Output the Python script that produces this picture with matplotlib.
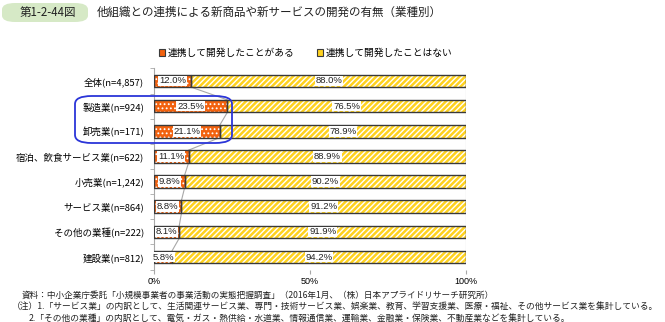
import matplotlib
matplotlib.use("Agg")
import matplotlib.pyplot as plt
from matplotlib.patches import FancyBboxPatch, Patch

plt.rcParams['font.family'] = ['Noto Sans CJK JP', 'DejaVu Sans']

categories = ["全体(n=4,857)", "製造業(n=924)", "卸売業(n=171)", "宿泊、飲食サービス業(n=622)",
              "小売業(n=1,242)", "サービス業(n=864)", "その他の業種(n=222)", "建設業(n=812)"]
yes_vals = [12.0, 23.5, 21.1, 11.1, 9.8, 8.8, 8.1, 5.8]
no_vals = [88.0, 76.5, 78.9, 88.9, 90.2, 91.2, 91.9, 94.2]
series_names = ["連携して開発したことがある", "連携して開発したことはない"]
xtick_vals = [0, 50, 100]
xtick_labels = ["0%", "50%", "100%"]

ORANGE = "#F2620F"
YELLOW = "#FFD21F"
EDGE = "#3A3A3A"
GRAY = "#A8A8A8"
NUMFONT = ["Liberation Sans Narrow", "Liberation Sans", "DejaVu Sans"]

W, H = 665, 322
fig = plt.figure(figsize=(W / 100, H / 100), dpi=100)
ax = fig.add_axes([154 / W, 1 - 269.6 / H, (466 - 154) / W, (269.6 - 68.4) / H])

y = list(range(len(categories)))
h = 0.5

# hatched fills
plt.rcParams['hatch.linewidth'] = 0.8
ax.barh(y, yes_vals, height=h, color=ORANGE, edgecolor="white", linewidth=0, hatch="....", zorder=2)
plt.rcParams['hatch.linewidth'] = 1.0
ax.barh(y, no_vals, left=yes_vals, height=h, color=YELLOW, edgecolor="white", linewidth=0, hatch="//////", zorder=2)
# outlines
ax.barh(y, yes_vals, height=h, fill=False, edgecolor=EDGE, linewidth=1.0, zorder=3)
ax.barh(y, no_vals, left=yes_vals, height=h, fill=False, edgecolor=EDGE, linewidth=1.0, zorder=3)

# series lines
for i in range(len(y) - 1):
    ax.plot([yes_vals[i], yes_vals[i + 1]], [i + h / 2, i + 1 - h / 2], color=GRAY, lw=0.8, zorder=1)
    ax.plot([100, 100], [i + h / 2, i + 1 - h / 2], color=GRAY, lw=0.8, zorder=1)

# value labels
for i in range(len(y)):
    ax.text(yes_vals[i] / 2, i, f"{yes_vals[i]:.1f}%", ha="center", va="center", fontsize=6.8,
            family=NUMFONT, color="#222222", zorder=4,
            bbox=dict(boxstyle="square,pad=0.08", fc="white", ec="none"))
    ax.text(yes_vals[i] + no_vals[i] / 2, i, f"{no_vals[i]:.1f}%", ha="center", va="center", fontsize=6.8,
            family=NUMFONT, color="#222222", zorder=4,
            bbox=dict(boxstyle="square,pad=0.08", fc="white", ec="none"))

ax.set_xlim(0, 100)
ax.set_ylim(len(y) - 0.5, -0.5)
ax.set_yticks(y)
ax.set_yticklabels(categories, fontsize=6.8)
ax.tick_params(axis="y", length=0, pad=7)
ax.set_yticks([i - 0.5 for i in range(len(y) + 1)], minor=True)
ax.tick_params(axis="y", which="minor", length=3, color=GRAY)
ax.set_xticks(xtick_vals)
ax.set_xticklabels(xtick_labels, fontsize=6.5, family=NUMFONT)
ax.tick_params(axis="x", length=3, color=GRAY, pad=2)
for s in ["top", "right", "bottom"]:
    ax.spines[s].set_visible(False)
ax.spines["left"].set_color(GRAY)
ax.spines["left"].set_linewidth(0.8)

# legend
handles = [Patch(facecolor=ORANGE, edgecolor=EDGE, linewidth=0.8),
           Patch(facecolor=YELLOW, edgecolor=EDGE, linewidth=0.8)]
fig.legend(handles, series_names, loc="center", bbox_to_anchor=(306 / W, 1 - 53 / H), ncol=2,
           frameon=False, fontsize=7.0, handlelength=0.6, handleheight=0.6, handletextpad=0.3,
           columnspacing=2.3)

# highlight box
fig.patches.append(FancyBboxPatch((75 / W, 1 - 143 / H), (232 - 75) / W, (143 - 96) / H,
                                  boxstyle="round,pad=0,rounding_size=0.025", transform=fig.transFigure,
                                  fill=False, edgecolor="#2B35D8", linewidth=1.3, zorder=10))

# title
fig.patches.append(FancyBboxPatch((2 / W, 1 - 22 / H), (88 - 2) / W, (22 - 3) / H,
                                  boxstyle="round,pad=0,rounding_size=0.02", transform=fig.transFigure,
                                  facecolor="#D6E9C6", edgecolor="none", zorder=0))
fig.text(48 / W, 1 - 12.5 / H, "第1-2-44図", ha="center", va="center", fontsize=8.3, color="#222222")
fig.text(97 / W, 1 - 12.5 / H, "他組織との連携による新商品や新サービスの開発の有無（業種別）",
         ha="left", va="center", fontsize=8.3, color="#222222")

# footer
fig.text(22 / W, 1 - 295 / H, "資料：中小企業庁委託「小規模事業者の事業活動の実態把握調査」（2016年1月、（株）日本アプライドリサーチ研究所）",
         ha="left", va="center", fontsize=6.2, color="#222222")
fig.text(12 / W, 1 - 306 / H, "（注）1.「サービス業」の内訳として、生活関連サービス業、専門・技術サービス業、娯楽業、教育、学習支援業、医療・福祉、その他サービス業を集計している。",
         ha="left", va="center", fontsize=6.3, color="#222222")
fig.text(29 / W, 1 - 318 / H, "2.「その他の業種」の内訳として、電気・ガス・熱供給・水道業、情報通信業、運輸業、金融業・保険業、不動産業などを集計している。",
         ha="left", va="center", fontsize=6.3, color="#222222")

fig.savefig("out.png", dpi=100)
